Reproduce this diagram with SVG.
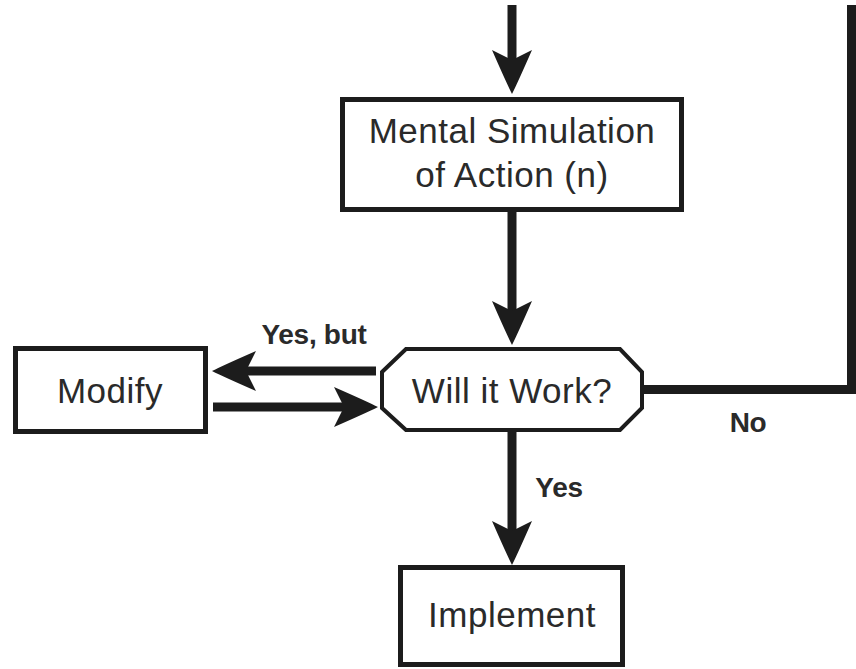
<svg xmlns="http://www.w3.org/2000/svg" width="856" height="669" viewBox="0 0 856 669">
  <style>
    .box { fill: #ffffff; stroke: #1c1c1c; stroke-width: 5; }
    .oct { fill: #ffffff; stroke: #1c1c1c; stroke-width: 4; stroke-linejoin: miter; }
    .lbl { font-family: "Liberation Sans", Arial, Helvetica, sans-serif; font-size: 35px; fill: #2a2a2a; text-anchor: middle; letter-spacing: 0.5px; }
    .edge { font-family: "Liberation Sans", Arial, Helvetica, sans-serif; font-size: 28px; font-weight: bold; fill: #2a2a2a; text-anchor: middle; letter-spacing: -0.3px; }
    .conn { fill: none; stroke: #1c1c1c; stroke-width: 9; stroke-linejoin: miter; stroke-linecap: butt; }
  </style>
  <defs>
    <marker id="arrow" markerUnits="userSpaceOnUse" orient="auto" markerWidth="60" markerHeight="60" viewBox="-20 -30 60 60" refX="0" refY="0" overflow="visible">
      <path d="M34,0 Q22,-6 -10,-20 L0,0 L-10,20 Q22,6 34,0 Z" fill="#1c1c1c"/>
    </marker>
  </defs>

  <rect width="856" height="669" fill="#ffffff"/>

  <g id="connectors">
    <line class="conn" x1="512" y1="5" x2="512" y2="60" marker-end="url(#arrow)"/>
    <line class="conn" x1="512" y1="212" x2="512" y2="311" marker-end="url(#arrow)"/>
    <line class="conn" x1="376" y1="371" x2="246" y2="371" marker-end="url(#arrow)"/>
    <line class="conn" x1="213" y1="407" x2="344" y2="407" marker-end="url(#arrow)"/>
    <line class="conn" x1="512" y1="430" x2="512" y2="531" marker-end="url(#arrow)"/>
    <polyline class="conn" points="642,389.5 851.5,389.5 851.5,5"/>
    <text class="edge" x="314" y="344">Yes, but</text>
    <text class="edge" x="748" y="432">No</text>
    <text class="edge" x="559" y="497">Yes</text>
  </g>

  <g id="mental-simulation">
    <rect class="box" x="342.5" y="99.5" width="339" height="110"/>
    <text class="lbl" x="512" y="143">Mental Simulation</text>
    <text class="lbl" x="512" y="187">of Action (n)</text>
  </g>

  <g id="will-it-work">
    <polygon class="oct" points="382,372 406,349 620,349 642,372 642,408 620,430 406,430 382,408"/>
    <text class="lbl" x="512" y="403">Will it Work?</text>
  </g>

  <g id="modify">
    <rect class="box" x="15.5" y="348.5" width="190" height="83"/>
    <text class="lbl" x="110" y="403">Modify</text>
  </g>

  <g id="implement">
    <rect class="box" x="400.5" y="567.5" width="222" height="97"/>
    <text class="lbl" x="512" y="627">Implement</text>
  </g>
</svg>
